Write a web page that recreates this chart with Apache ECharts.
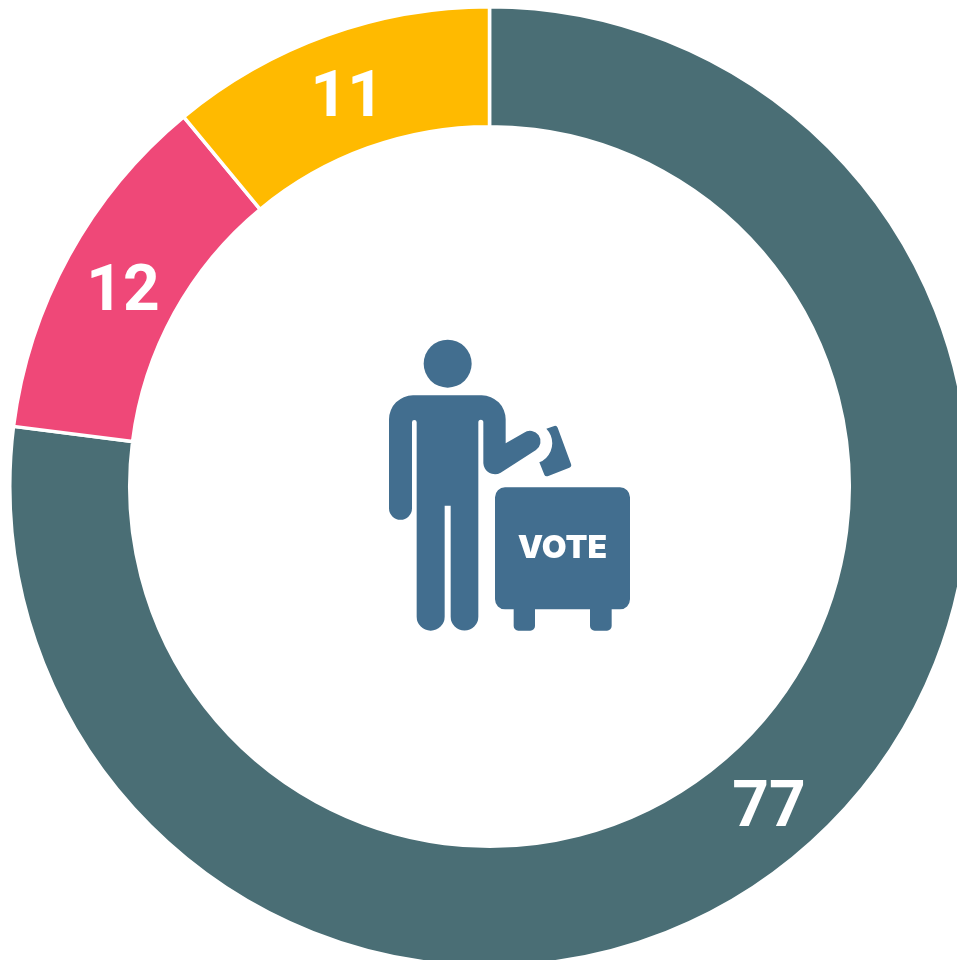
<!DOCTYPE html>
<html>
<head>
<meta charset="utf-8">
<style>
  html, body { margin: 0; padding: 0; background: #fff; }
  #main { width: 957px; height: 960px; }
</style>
<script src="https://cdn.jsdelivr.net/npm/echarts@6/dist/echarts.min.js"></script>
</head>
<body>
<div id="main"></div>
<script>
var categories = ["A", "B", "C"];
var values = [77, 12, 11];
var colors = ["#4a6e75", "#ef4878", "#ffba00"];
var iconColor = "#426e8f";
var labelOffsets = [[0, 6], [4, 11], [1, 11]];

// voter icon (drawn at 3x, scaled down in the group)
var personPath = "M130 196L335 196A72 72 0 0 1 407 268L407 340L462 308A30 30 0 0 1 498 360L392 428A35 35 0 0 1 340 400L340 277A7.5 7.5 0 0 0 325 277L325 860A41.5 41.5 0 0 1 242 860L242 527L224 527L224 860A42 42 0 0 1 140 860L140 277A7 7 0 0 0 126 277L126 535A34.5 34.5 0 0 1 57 535L57 268A72 72 0 0 1 130 196Z";
var ballotPath = "M529 296L553 288Q560 286 563 293L603 402Q606 410 598 413L535 438Q526 441 523 434L508 397A62 62 0 0 0 529 296Z";
var boxPath = "M405 472L750 472A30 30 0 0 1 780 502L780 808A30 30 0 0 1 750 838L725 838L725 888A14 14 0 0 1 711 902L674 902A14 14 0 0 1 660 888L660 838L495 838L495 888A14 14 0 0 1 481 902L445 902A14 14 0 0 1 431 888L431 838L405 838A30 30 0 0 1 375 808L375 502A30 30 0 0 1 405 472Z";

echarts.graphic.registerShape("votePerson", echarts.graphic.extendPath(personPath));
echarts.graphic.registerShape("voteBallot", echarts.graphic.extendPath(ballotPath));
echarts.graphic.registerShape("voteBox", echarts.graphic.extendPath(boxPath));

var myChart = echarts.init(document.getElementById("main"), null, { renderer: "canvas" });

myChart.setOption({
  animation: false,
  backgroundColor: "#fff",
  graphic: {
    elements: [
      {
        type: "group",
        x: 370,
        y: 330,
        scaleX: 1 / 3,
        scaleY: 1 / 3,
        children: [
          { type: "circle", shape: { cx: 233, cy: 101, r: 72 }, style: { fill: iconColor } },
          { type: "votePerson", style: { fill: iconColor } },
          { type: "voteBallot", style: { fill: iconColor } },
          { type: "voteBox", style: { fill: iconColor } }
        ]
      },
      {
        type: "text",
        x: 562.5,
        y: 548,
        style: {
          text: "VOTE",
          fill: "#fff",
          font: "900 32px Inter",
          textAlign: "center",
          textVerticalAlign: "middle"
        }
      }
    ]
  },
  series: [
    {
      type: "pie",
      center: [489.5, 486.5],
      radius: [359.75, 479.75],
      startAngle: 90,
      clockwise: true,
      silent: true,
      itemStyle: { borderColor: "#fff", borderWidth: 3.5 },
      label: {
        show: true,
        position: "inside",
        formatter: "{c}",
        color: "#fff",
        fontFamily: "Roboto",
        fontWeight: "bold",
        fontSize: 64
      },
      labelLine: { show: false },
      data: categories.map(function (name, i) {
        return {
          name: name,
          value: values[i],
          itemStyle: { color: colors[i] },
          label: { offset: labelOffsets[i] }
        };
      })
    }
  ]
});
</script>
</body>
</html>
